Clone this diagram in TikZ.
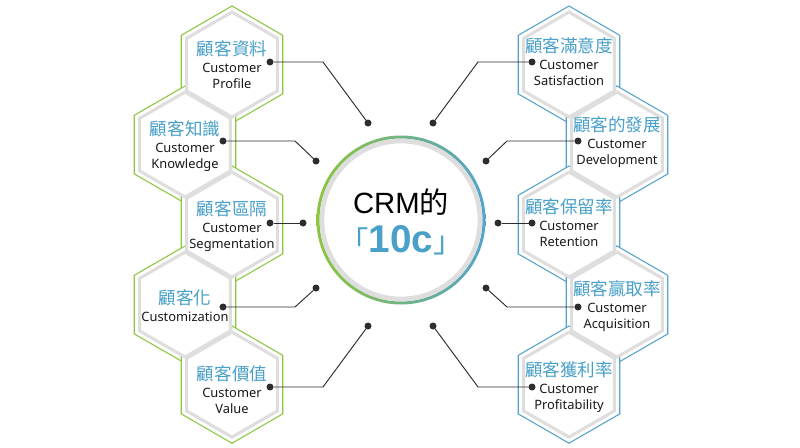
\documentclass[tikz,border=0pt]{standalone}
\usepackage{fontspec}
\setmainfont{Noto Sans}
\newfontfamily\cjk{Noto Sans CJK TC}
\newfontfamily\hubfont{Liberation Sans}
\usepackage{xcolor}
\usepackage{tikz}
\usetikzlibrary{calc}
\definecolor{LeafGreen}{RGB}{141,198,63}
\definecolor{SkyBlue}{RGB}{84,163,203}
\definecolor{TitleBlue}{RGB}{73,160,200}
\definecolor{RimGray}{RGB}{222,222,222}
\definecolor{LeadGray}{RGB}{45,45,45}
\definecolor{InkBlack}{RGB}{25,25,25}
\newcommand{\hexzh}[1]{{\cjk\fontsize{15pt}{18pt}\selectfont\color{TitleBlue}#1}}
\def\rimR{58.6}
\def\cellR{52.5}
\tikzset{
  hexrim/.style={line width=0.9pt, fill=white},
  greenrim/.style={hexrim, draw=LeafGreen},
  bluerim/.style={hexrim, draw=SkyBlue},
  hexcell/.style={draw=RimGray, line width=2.6pt, fill=white},
  hexlabel/.style={align=center, text=InkBlack, inner sep=0pt, font=\fontsize{11pt}{13.6pt}\selectfont},
  bead/.style={circle, fill=LeadGray, minimum size=0.21cm, inner sep=0pt, outer sep=0pt},
  leader/.style={draw=LeadGray, line width=0.8pt},
}

\begin{document}
\begin{tikzpicture}[x=0.03cm, y=-0.03cm]
  \useasboundingbox[fill=white] (0,0) rectangle (800,448);
  % outer rims first
  \foreach \x/\y/\c in {232/64.6/greenrim, 185/144.6/greenrim, 232/224.6/greenrim, 185/304.6/greenrim, 232/384.6/greenrim,
                        569/64.6/bluerim, 617/144.6/bluerim, 569/224.6/bluerim, 617/304.6/bluerim, 569/384.6/bluerim}
    \draw[\c] (\x,\y) +(90:\rimR) -- +(150:\rimR) -- +(210:\rimR) -- +(270:\rimR) -- +(330:\rimR) -- +(30:\rimR) -- cycle;
  % cells, lowest first
  \foreach \x/\y in {232/384.6, 185/304.6, 232/224.6, 185/144.6, 232/64.6,
                     569/384.6, 617/304.6, 569/224.6, 617/144.6, 569/64.6}
    \draw[hexcell] (\x,\y) +(90:\cellR) -- +(150:\cellR) -- +(210:\cellR) -- +(270:\cellR) -- +(330:\cellR) -- +(30:\cellR) -- cycle;

  \node[hexlabel] (labL1) at (232,64.6) {\hexzh{顧客資料}\\[1pt]Customer\\Profile};
  \node[hexlabel] (labL2) at (185,146) {\hexzh{顧客知識}\\[1pt]Customer\\Knowledge};
  \node[hexlabel] (labL3) at (232,226) {\hexzh{顧客區隔}\\[1pt]Customer\\Segmentation};
  \node[hexlabel] (labL4) at (185,306) {\hexzh{顧客化}\\[1pt]Customization};
  \node[hexlabel] (labL5) at (232,390) {\hexzh{顧客價值}\\[1pt]Customer\\Value};
  \node[hexlabel] (labR1) at (569,62) {\hexzh{顧客滿意度}\\[1pt]Customer\\Satisfaction};
  \node[hexlabel] (labR2) at (617,142) {\hexzh{顧客的發展}\\[1pt]Customer\\Development};
  \node[hexlabel] (labR3) at (569,223) {\hexzh{顧客保留率}\\[1pt]Customer\\Retention};
  \node[hexlabel] (labR4) at (617,306) {\hexzh{顧客贏取率}\\[1pt]Customer\\Acquisition};
  \node[hexlabel] (labR5) at (569,387) {\hexzh{顧客獲利率}\\[1pt]Customer\\Profitability};

  % hub
  \shade[left color=LeafGreen, right color=SkyBlue, even odd rule]
    (401,220) circle[radius=84.5] circle[radius=81.5];
  \node[circle, minimum size=4.74cm, inner sep=0pt, outer sep=0pt, draw=RimGray,
    line width=4pt, fill=white] (hub) at (401,220) {};
  \node[font=\hubfont\fontsize{25pt}{30pt}\selectfont, text=black] (hubtitle) at (401,202) {CRM{\cjk 的}};
  \node[text=TitleBlue] (hubnum) at (401,240)
    {{\cjk\fontsize{25pt}{30pt}\selectfont 「}{\hubfont\fontsize{33pt}{40pt}\selectfont\bfseries 10c}{\cjk\fontsize{25pt}{30pt}\selectfont 」}};

  % leader ends
  \node[bead] (beadL1) at (270,62) {};   \coordinate (bendL1) at (323,62);  \node[bead] (tipL1) at (368,123) {};
  \node[bead] (beadL2) at (223,141) {};  \coordinate (bendL2) at (295,141); \node[bead] (tipL2) at (316,161) {};
  \node[bead] (beadL3) at (270,223) {};  \node[bead] (tipL3) at (303,223) {};
  \node[bead] (beadL4) at (223,307) {};  \coordinate (bendL4) at (295,307); \node[bead] (tipL4) at (316,288) {};
  \node[bead] (beadL5) at (270,387) {};  \coordinate (bendL5) at (323,387); \node[bead] (tipL5) at (368,326) {};
  \node[bead] (beadR1) at (532,62) {};   \coordinate (bendR1) at (478,62);  \node[bead] (tipR1) at (433,123) {};
  \node[bead] (beadR2) at (578,141) {};  \coordinate (bendR2) at (507,141); \node[bead] (tipR2) at (486,161) {};
  \node[bead] (beadR3) at (532,223) {};  \node[bead] (tipR3) at (498,223) {};
  \node[bead] (beadR4) at (578,307) {};  \coordinate (bendR4) at (507,307); \node[bead] (tipR4) at (486,288) {};
  \node[bead] (beadR5) at (532,387) {};  \coordinate (bendR5) at (478,387); \node[bead] (tipR5) at (433,326) {};
  \foreach \s in {L1,L2,L4,L5,R1,R2,R4,R5}
    \draw[leader] (bead\s) -- (bend\s) -- (tip\s);
  \draw[leader] (beadL3) -- (tipL3);
  \draw[leader] (beadR3) -- (tipR3);
\end{tikzpicture}
\end{document}
